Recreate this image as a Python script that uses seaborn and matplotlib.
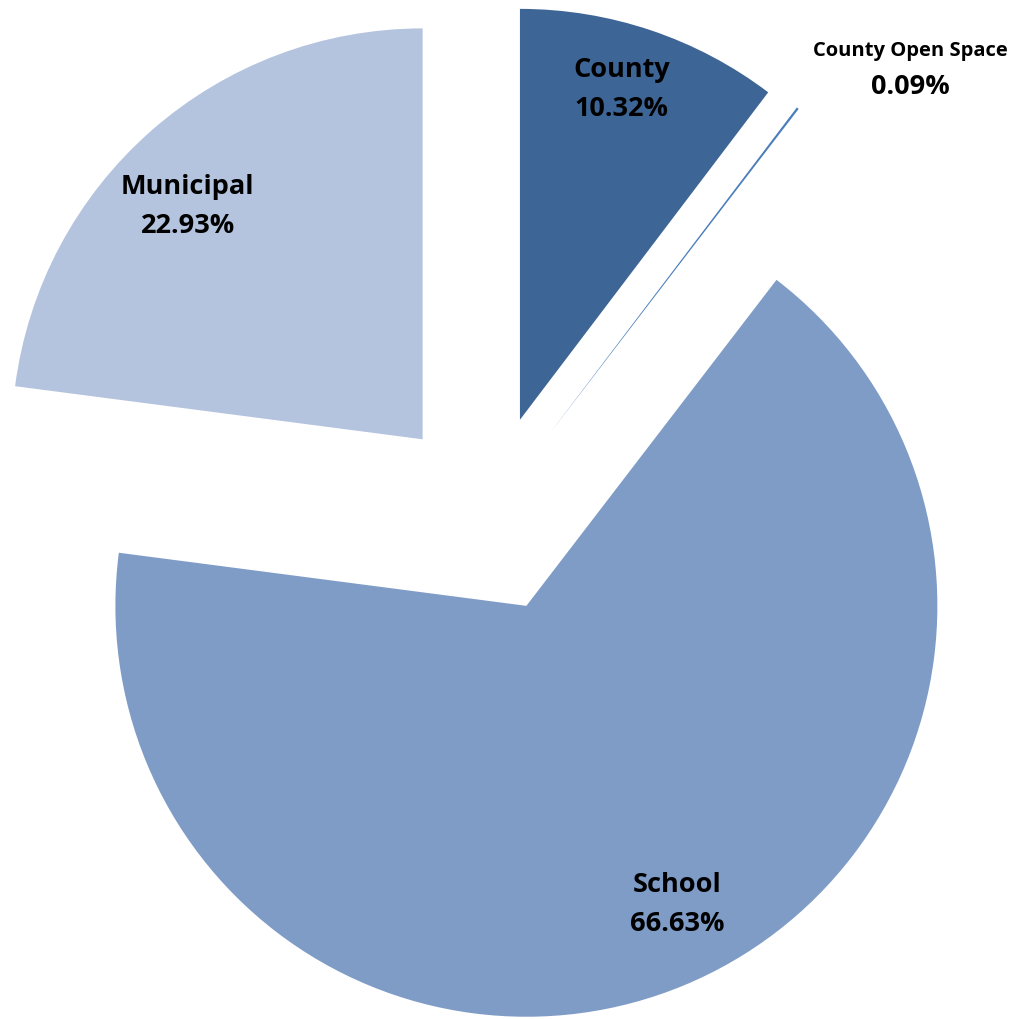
import matplotlib
matplotlib.use("Agg")
import matplotlib.pyplot as plt
import seaborn as sns

# Land ownership shares (percent)
categories = ["County", "County Open Space", "School", "Municipal"]
shares = [10.32, 0.09, 66.63, 22.93]
slice_colors = ["#3D6595", "#4A7EBB", "#7F9CC7", "#B4C3DE"]

# label anchors (data units, pie radius = 1)
label_xy = [(0.325, 1.034), (1.026, 1.127), (0.459, -0.951), (-0.731, 0.749)]
small_pct_xy = (1.026, 1.040)

sns.set_theme(style="white")
plt.rcParams["font.family"] = ["Open Sans", "DejaVu Sans"]

fig = plt.figure(figsize=(10.25, 10.19), dpi=100)
ax = fig.add_axes([0, 0, 1, 1])

# the tiny slice shows its name and value on separate lines in two sizes
labels = [c if v < 1 else f"{c}\n{v:.2f}%" for c, v in zip(categories, shares)]
wedges, texts = ax.pie(
    shares,
    labels=labels,
    colors=slice_colors,
    explode=[0.242] * len(shares),
    startangle=90,
    counterclock=False,
    wedgeprops=dict(linewidth=0),
    textprops=dict(ha="center", va="center", fontweight="bold",
                   color="black", fontsize=19.5, linespacing=1.65),
)

for t, xy, v in zip(texts, label_xy, shares):
    t.set_position(xy)
    if v < 1:
        t.set_fontsize(14.5)
        ax.text(*small_pct_xy, f"{v:.2f}%", ha="center", va="center",
                fontsize=19.5, fontweight="bold", color="black")

ax.set_aspect("auto")
ax.set_xlim(-1.188, 1.306)
ax.set_ylim(-1.229, 1.251)
ax.axis("off")

fig.savefig("out.png", dpi=100, facecolor="white")
